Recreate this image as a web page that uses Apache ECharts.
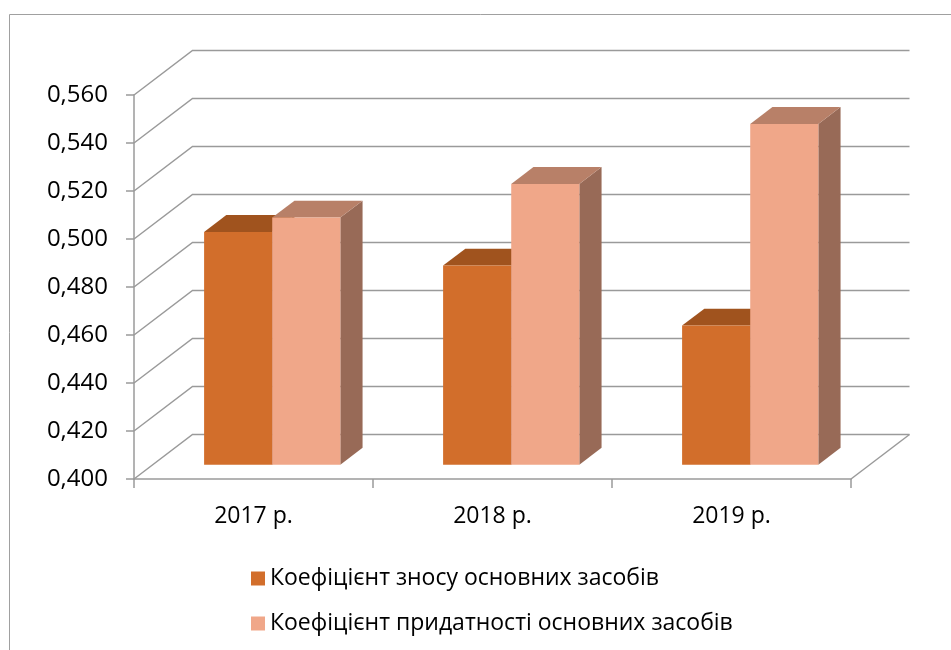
<!DOCTYPE html>
<html>
<head>
<meta charset="utf-8">
<script src="https://cdn.jsdelivr.net/npm/echarts@6/dist/echarts.min.js"></script>
<style>
  html, body { margin: 0; padding: 0; background: #fff; }
  #chart { width: 951px; height: 650px; }
</style>
</head>
<body>
<div id="chart"></div>
<script>
// chart data
const years = ['2017 р.', '2018 р.', '2019 р.']
const seriesNames = ['Коефіцієнт зносу основних засобів', 'Коефіцієнт придатності основних засобів']
const wearValues = [0.497, 0.483, 0.458]
const fitnessValues = [0.503, 0.517, 0.542]
const yTicks = [0.40, 0.42, 0.44, 0.46, 0.48, 0.50, 0.52, 0.54, 0.56]

const yMin = 0.40
const yMax = 0.56
const depth = [58.5, -44.5] // floor depth vector (oblique projection)
const barFront = 0.32 // bar front face position within depth
const barDepth = 0.38 // bar thickness within depth
const gridColor = '#9a9a9a'
const fontFamily = 'Open Sans'

const palettes = [
  { front: '#D26E2B', top: '#A0531E', side: '#8F4A1C' },
  { front: '#F0A789', top: '#B88068', side: '#986A57' }
]

const chart = echarts.init(document.getElementById('chart'))

// back wall, side wall and floor lines
function renderWalls (params, api) {
  const cs = params.coordSys
  const v = api.value(1)
  const y = api.coord([0, v])[1]
  const x0 = cs.x
  const x1 = cs.x + cs.width
  const children = [{
    type: 'polyline',
    shape: { points: [[x0, y], [x0 + depth[0], y + depth[1]], [x1 + depth[0], y + depth[1]]] },
    style: { stroke: gridColor, lineWidth: 1.5, fill: null }
  }]
  if (v === yMin) {
    children.push({
      type: 'line',
      shape: { x1: x1, y1: y, x2: x1 + depth[0], y2: y + depth[1] },
      style: { stroke: gridColor, lineWidth: 1.5 }
    })
  }
  return { type: 'group', children: children }
}

// 3d-looking bar
function makeBarRenderer (idx) {
  const pal = palettes[idx]
  return function (params, api) {
    const i = api.value(0)
    const v = api.value(1)
    const base = api.coord([i, yMin])
    const top = api.coord([i, v])
    const band = api.size([1, 0])[0]
    const bw = band * 0.285
    const fx = depth[0] * barFront
    const fy = depth[1] * barFront
    const bdx = depth[0] * barDepth
    const bdy = depth[1] * barDepth
    const cx = base[0] + fx
    const l = idx === 0 ? cx - bw : cx
    const r = l + bw
    const ty = top[1] + fy
    const by = base[1] + fy
    return {
      type: 'group',
      children: [
        {
          type: 'polygon',
          shape: { points: [[r, ty], [r + bdx, ty + bdy], [r + bdx, by + bdy], [r, by]] },
          style: { fill: pal.side }
        },
        {
          type: 'polygon',
          shape: { points: [[l, ty], [r, ty], [r + bdx, ty + bdy], [l + bdx, ty + bdy]] },
          style: { fill: pal.top }
        },
        {
          type: 'rect',
          shape: { x: l, y: ty, width: bw, height: by - ty },
          style: { fill: pal.front }
        }
      ]
    }
  }
}

const option = {
  animation: false,
  backgroundColor: '#fff',
  textStyle: { fontFamily: fontFamily },
  graphic: [{
    type: 'rect',
    shape: { x: 9.5, y: 14.5, width: 1000, height: 700 },
    style: { stroke: '#a0a0a0', lineWidth: 1, fill: null },
    silent: true
  }],
  grid: { left: 134, right: 100, top: 95, bottom: 171 },
  legend: {
    orient: 'vertical',
    left: 246,
    top: 562,
    itemWidth: 14,
    itemHeight: 14,
    itemGap: 22,
    icon: 'rect',
    selectedMode: false,
    textStyle: { fontSize: 23, color: '#000', fontFamily: fontFamily },
    data: seriesNames
  },
  xAxis: {
    type: 'category',
    data: years,
    axisLine: { show: true, lineStyle: { color: gridColor, width: 1.5 } },
    axisTick: { show: true, length: 9, lineStyle: { color: gridColor, width: 1.5 } },
    axisLabel: { color: '#000', fontSize: 23, margin: 26, fontFamily: fontFamily },
    splitLine: { show: false }
  },
  yAxis: {
    type: 'value',
    min: yMin,
    max: yMax,
    interval: 0.02,
    axisLine: { show: true, lineStyle: { color: gridColor, width: 1.5 } },
    axisTick: { show: true, length: 8, lineStyle: { color: gridColor, width: 1.5 } },
    axisLabel: {
      color: '#000',
      fontSize: 24,
      margin: 26,
      fontFamily: fontFamily,
      formatter: v => v.toFixed(3).replace('.', ',')
    },
    splitLine: { show: false }
  },
  series: [
    {
      name: 'walls',
      type: 'custom',
      z: 1,
      silent: true,
      renderItem: renderWalls,
      data: yTicks.map(t => [0, t])
    },
    {
      name: seriesNames[0],
      type: 'custom',
      z: 2,
      itemStyle: { color: palettes[0].front },
      renderItem: makeBarRenderer(0),
      data: wearValues.map((v, i) => [i, v])
    },
    {
      name: seriesNames[1],
      type: 'custom',
      z: 3,
      itemStyle: { color: palettes[1].front },
      renderItem: makeBarRenderer(1),
      data: fitnessValues.map((v, i) => [i, v])
    }
  ]
}

chart.setOption(option)
</script>
</body>
</html>
